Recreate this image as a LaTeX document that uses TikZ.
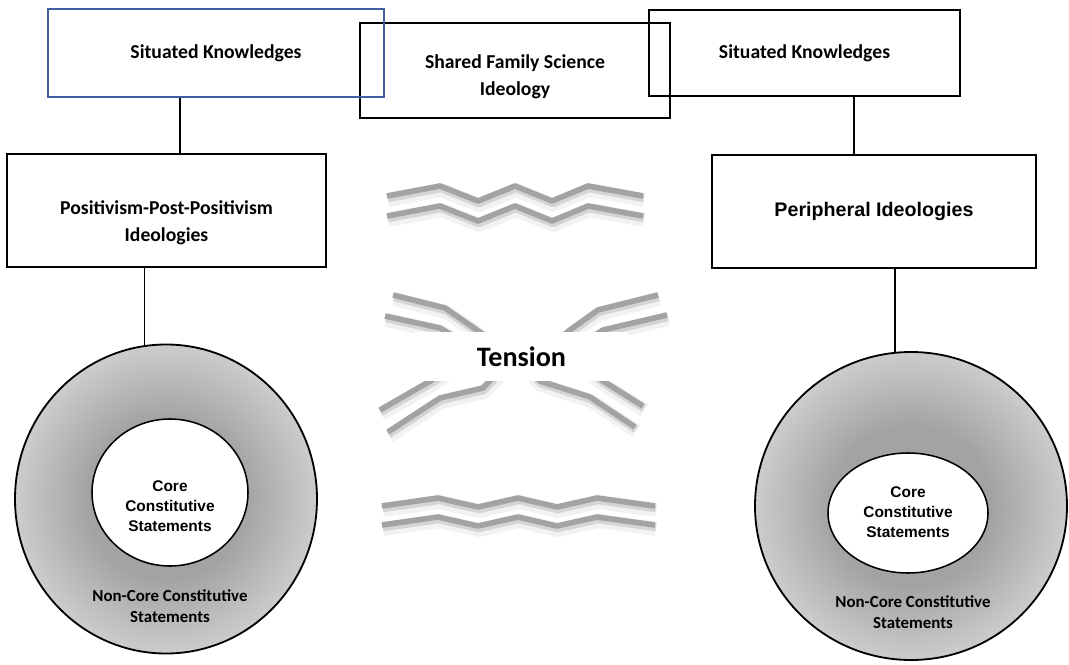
\documentclass[tikz,border=0pt]{standalone}
\usepackage{fontspec}
\setmainfont{Carlito}
\newfontfamily\arialfont{Liberation Sans}
\usetikzlibrary{shapes.geometric}

\definecolor{skblue}{RGB}{64,96,160}
\definecolor{wavegray}{RGB}{163,163,163}
\pgfdeclareradialshading{ringshade}{\pgfpoint{0bp}{0bp}}{color(0bp)=(gray!74); color(13bp)=(gray!72); color(19bp)=(gray!56); color(25bp)=(gray!40); color(50bp)=(gray!40)}

% one stroke of the tension marks, with its soft shadow
\newcommand{\tensionline}[2][0]{%
    \draw[waveblur, yshift=#1 cm] #2;
    \draw[waveshadow, yshift=#1 cm] #2;
    \draw[wave, yshift=#1 cm] #2;}

\begin{document}
\begin{tikzpicture}[every node/.style={font=\bfseries\fontsize{14}{19}\selectfont},
    box/.style={draw, line width=1.3pt, align=center, inner sep=0pt},
    boxtext/.style={align=center, inner sep=0pt},
    ring/.style={ellipse, draw, line width=1.3pt, shading=ringshade, inner sep=0pt},
    core/.style={ellipse, draw, line width=1.1pt, fill=white, inner sep=0pt},
    coretext/.style={align=center, font=\arialfont\bfseries\fontsize{11}{14.2}\selectfont},
    noncore/.style={align=center, font=\bfseries\fontsize{12}{15}\selectfont},
    link/.style={line width=1.2pt},
    wave/.style={line width=4pt, wavegray, line join=round},
    waveshadow/.style={line width=5.5pt, black, opacity=0.12, line join=round, transform canvas={shift={(0.02,-0.06)}}},
    waveblur/.style={line width=10pt, black, opacity=0.05, line join=round, transform canvas={shift={(0.03,-0.1)}}},
    tensionbox/.style={fill=white, minimum width=5.325cm, minimum height=1.225cm, font=\bfseries\fontsize{20}{24}\selectfont}]
    \useasboundingbox (0,0) rectangle (26.725,-16.625);

    % top row
    \node[box, minimum width=7.75cm, minimum height=2.375cm] (shared) at (12.875,-1.7625) {};
    \node[boxtext, yshift=-0.15cm] (sharedtext) at (shared) {Shared Family Science\\Ideology};
    \node[box, draw=skblue, minimum width=8.4cm, minimum height=2.2cm] (skL) at (5.4,-1.325) {Situated Knowledges};
    \node[box, minimum width=7.775cm, minimum height=2.15cm] (skR) at (20.1125,-1.325) {Situated Knowledges};

    % ideology boxes
    \node[box, minimum width=7.975cm, minimum height=2.825cm] (posi) at (4.1625,-5.2625) {};
    \node[boxtext, yshift=-0.3cm] (positext) at (posi) {Positivism-Post-Positivism\\Ideologies};
    \node[box, font=\arialfont\bfseries\fontsize{14}{17}\selectfont, minimum width=8.1cm, minimum height=2.825cm] (peri) at (21.85,-5.2875) {Peripheral Ideologies};

    % rings
    \node[ring, minimum width=7.55cm, minimum height=7.725cm] (ringL) at (4.15,-12.475) {};
    \node[core, minimum width=3.9cm, minimum height=3.675cm] (coreL) at (4.25,-12.3125) {};
    \node[coretext] (coreLtext) at (4.25,-12.65) {Core\\Constitutive\\Statements};
    \node[noncore] (noncoreL) at (4.25,-15.1625) {Non-Core Constitutive\\Statements};

    \node[ring, minimum width=7.8cm, minimum height=7.7cm] (ringR) at (22.775,-12.65) {};
    \node[core, minimum width=4cm, minimum height=3cm] (coreR) at (22.7,-12.825) {};
    \node[coretext] (coreRtext) at (22.7,-12.8125) {Core\\Constitutive\\Statements};
    \node[noncore] (noncoreR) at (22.825,-15.3) {Non-Core Constitutive\\Statements};

    % links
    \coordinate (xL) at (4.5,0);
    \coordinate (xR) at (21.35,0);
    \draw[link] (skL.south -| xL) -- (posi.north -| xL);
    \draw[link] (posi.south -| ringL.98) -- (ringL.98);
    \draw[link] (skR.south -| xR) -- (peri.north -| xR);
    \draw[link] (peri.south -| ringR.96) -- (ringR.96);

    % tension marks
    \foreach \dy in {0,-0.5}
        \tensionline[\dy]{(9.675,-4.9) -- (11,-4.65) -- (11.95,-5.025) -- (12.875,-4.65) -- (13.8,-5.025) -- (14.7,-4.65) -- (16.075,-4.9)};
    \foreach \dy in {0,-0.475}
        \tensionline[\dy]{(9.55,-12.65) -- (10.95,-12.45) -- (11.95,-12.675) -- (12.95,-12.45) -- (13.925,-12.675) -- (14.925,-12.45) -- (16.375,-12.65)};

    \tensionline{(9.825,-7.375) -- (11.125,-7.7) -- (11.925,-8.25) -- (12.625,-8.75)}
    \tensionline{(9.625,-7.9) -- (11,-8.2) -- (11.5,-8.5) -- (12,-8.8)}
    \tensionline{(16.45,-7.375) -- (14.95,-7.75) -- (14.25,-8.25) -- (13.625,-8.75)}
    \tensionline{(16.675,-7.875) -- (15.075,-8.25) -- (14.5,-8.625)}
    \tensionline{(9.5,-10.25) -- (10.8,-9.5) -- (11.25,-9.2)}
    \tensionline{(9.7,-10.8) -- (11,-9.95) -- (12.075,-9.7) -- (12.5,-9.25)}
    \tensionline{(13.25,-9.25) -- (13.5,-9.525) -- (14.75,-9.925) -- (15.875,-10.675)}
    \tensionline{(14.75,-9.25) -- (15.075,-9.525) -- (16.075,-10.15)}

    \node[tensionbox] (tension) at (13.0375,-8.9125) {Tension};
\end{tikzpicture}
\end{document}
